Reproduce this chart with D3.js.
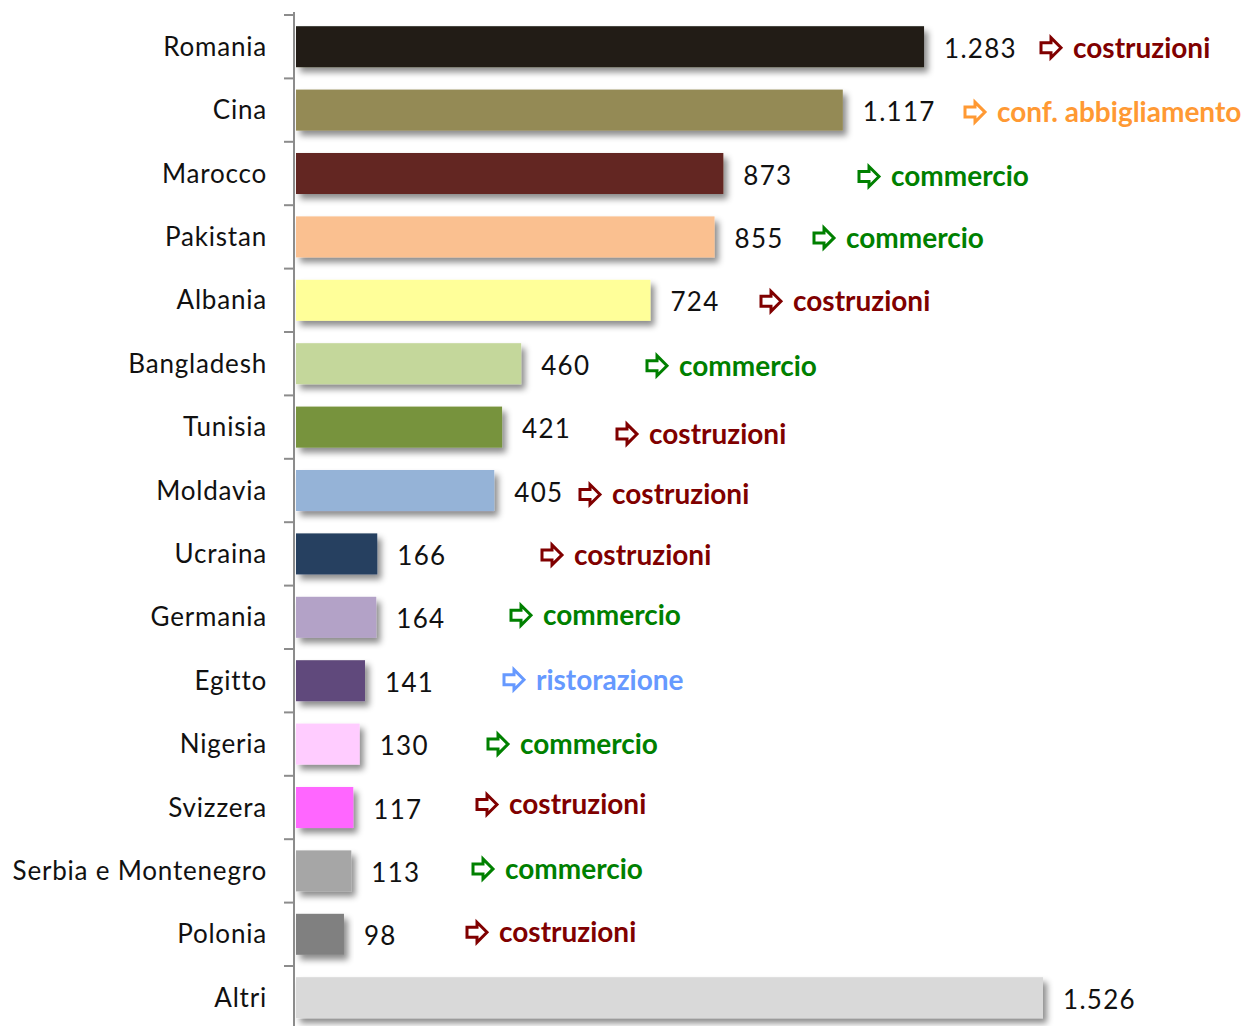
<!DOCTYPE html>
<html>
<head>
<meta charset="utf-8">
<script src="https://cdn.jsdelivr.net/npm/d3@7"></script>
<style>
  html, body { margin: 0; padding: 0; background: #fff; }
  svg { display: block; }
</style>
</head>
<body>
<svg id="chart" width="1245" height="1026"></svg>
<script>
// ---- data ----
const categories = ["Romania","Cina","Marocco","Pakistan","Albania","Bangladesh","Tunisia","Moldavia","Ucraina","Germania","Egitto","Nigeria","Svizzera","Serbia e Montenegro","Polonia","Altri"];
const values = [1283,1117,873,855,724,460,421,405,166,164,141,130,117,113,98,1526];
const valueLabels = ["1.283","1.117","873","855","724","460","421","405","166","164","141","130","117","113","98","1.526"];
const sectors = ["costruzioni","conf. abbigliamento","commercio","commercio","costruzioni","commercio","costruzioni","costruzioni","costruzioni","commercio","ristorazione","commercio","costruzioni","commercio","costruzioni",""];

// ---- styles / layout ----
const barColors = ["#231f16","#948a54","#632523","#fac090","#ffff99","#c4d79b","#77933c","#95b3d7","#254061","#b3a2c7","#604a7b","#ffccff","#ff66ff","#a6a6a6","#808080","#d9d9d9"];
const sectorColors = {"costruzioni":"#800000","conf. abbigliamento":"#ff9933","commercio":"#008000","ristorazione":"#6699ff"};
const noteX = [1040,964,858,813,760,646,616,579,541,510,503,487,476,472,466,0];
const noteDy = [1,2,3,1,1,2,7,4,1,-2,-1,0,-3,-2,-2,0];

const svg = d3.select("#chart");
const defs = svg.append("defs");
const f = defs.append("filter").attr("id","shadow").attr("x","-10%").attr("y","-30%").attr("width","130%").attr("height","180%");
f.append("feDropShadow").attr("dx",4).attr("dy",5).attr("stdDeviation",3).attr("flood-color","#000").attr("flood-opacity",0.45);

const x = d3.scaleLinear().domain([0, 1526]).range([296, 1043]);
const y = d3.scaleBand().domain(categories).range([15, 15 + 16 * 63.4]).paddingInner(0.353).paddingOuter(0.1765);

// bars
svg.append("g").selectAll("rect").data(categories).join("rect")
  .attr("x", x(0))
  .attr("y", d => y(d))
  .attr("width", (d, i) => x(values[i]) - x(0))
  .attr("height", y.bandwidth())
  .attr("fill", (d, i) => barColors[i])
  .attr("filter", "url(#shadow)");

// axis
const axisG = svg.append("g").attr("transform", `translate(${x(0) - 2},0)`);
axisG.append("line").attr("x1",0).attr("x2",0).attr("y1",12).attr("y2",1026).attr("stroke","#8c8c8c").attr("stroke-width",2);
const step = y.step();
const tickYs = d3.range(categories.length + 1).map(i => y.range()[0] + i * step);
axisG.selectAll("line.tick").data(tickYs).join("line").attr("class","tick")
  .attr("x1",-10).attr("x2",0).attr("y1",d=>d).attr("y2",d=>d)
  .attr("stroke","#8c8c8c").attr("stroke-width",2);

// category labels
svg.append("g").selectAll("text").data(categories).join("text")
  .attr("x", 267)
  .attr("y", d => y(d) + y.bandwidth() / 2)
  .attr("dy", "0.35em")
  .attr("text-anchor", "end")
  .attr("font-family", "Lato, 'Open Sans', sans-serif")
  .attr("font-size", 26)
  .attr("letter-spacing", 0.8)
  .attr("fill", "#111")
  .text(d => d);

// value labels
svg.append("g").selectAll("text").data(categories).join("text")
  .attr("x", (d, i) => x(values[i]) + 20)
  .attr("y", d => y(d) + y.bandwidth() / 2 + 2)
  .attr("dy", "0.35em")
  .attr("font-family", "Lato, 'Open Sans', sans-serif")
  .attr("font-size", 26)
  .attr("letter-spacing", 1.3)
  .attr("fill", "#111")
  .text((d, i) => valueLabels[i]);

// sector notes
const notes = svg.append("g").selectAll("g").data(categories.filter((d, i) => sectors[i])).join("g")
  .attr("transform", d => { const i = categories.indexOf(d); return `translate(${noteX[i]},${y(d) + y.bandwidth() / 2 + noteDy[i]})`; });
notes.append("path")
  .attr("d", "M1,-5 L11,-5 L11,-10 L21,0 L11,10 L11,5 L1,5 Z")
  .attr("fill", "#fff")
  .attr("stroke", d => sectorColors[sectors[categories.indexOf(d)]])
  .attr("stroke-width", 3)
  .attr("stroke-linejoin", "miter");
notes.append("text")
  .attr("x", 33)
  .attr("dy", "0.35em")
  .attr("font-family", "Lato, 'Open Sans', sans-serif")
  .attr("font-weight", "bold")
  .attr("font-size", 28)
  .attr("fill", d => sectorColors[sectors[categories.indexOf(d)]])
  .text(d => sectors[categories.indexOf(d)]);
</script>
</body>
</html>
